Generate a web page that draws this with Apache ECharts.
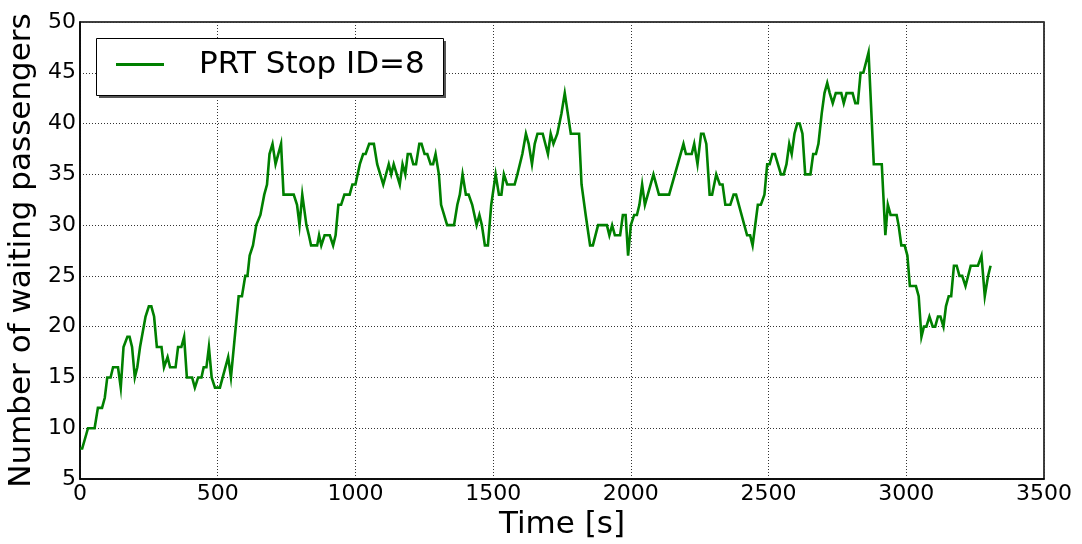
<!DOCTYPE html>
<html>
<head>
<meta charset="utf-8">
<script src="https://cdn.jsdelivr.net/npm/echarts@6/dist/echarts.min.js"></script>
<style>
  html, body { margin: 0; padding: 0; background: #fff; }
  #chart { width: 1082px; height: 544px; }
</style>
</head>
<body>
<div id="chart"></div>
<script>
// Queue length at PRT stop 8 over the simulation run
const seriesName = 'PRT Stop ID=8';
const times = [0,8,29,53,65,80,90,99,111,120,138,148,158,172,180,189,199,208,218,225,238,250,259,269,279,296,305,318,327,347,356,368,378,388,407,417,429,441,449,459,468,478,490,508,518,538,548,562,576,588,600,608,616,628,640,655,669,679,688,699,710,730,739,776,788,797,807,822,831,839,861,868,876,888,907,919,928,938,948,960,979,989,1000,1016,1028,1037,1050,1067,1079,1101,1121,1130,1139,1161,1171,1181,1190,1200,1210,1220,1232,1240,1251,1261,1273,1282,1291,1303,1311,1333,1358,1370,1379,1389,1401,1411,1424,1440,1450,1459,1470,1481,1493,1509,1521,1530,1539,1551,1578,1588,1606,1619,1629,1641,1651,1661,1680,1699,1709,1719,1733,1748,1760,1782,1812,1821,1836,1852,1862,1881,1913,1922,1932,1942,1961,1971,1981,1990,2000,2012,2022,2031,2041,2051,2082,2102,2139,2191,2200,2221,2230,2242,2255,2264,2274,2286,2295,2310,2323,2333,2343,2361,2373,2382,2422,2433,2442,2461,2472,2485,2495,2504,2514,2523,2545,2555,2565,2575,2584,2594,2604,2613,2623,2633,2652,2662,2672,2681,2693,2703,2713,2722,2733,2744,2764,2773,2783,2805,2815,2824,2834,2844,2863,2882,2911,2924,2933,2943,2965,2972,2982,2994,3004,3013,3035,3045,3055,3064,3073,3084,3096,3105,3115,3124,3135,3144,3154,3163,3173,3183,3193,3203,3215,3234,3260,3273,3285,3297,3306];
const waiting = [8,8,10,10,12,12,13,15,15,16,16,14,18,19,19,18,15,16,18,18,21,22,22,21,18,18,16,17,16,16,18,18,19,15,15,14,15,15,16,16,18,15,14,14,15,17,15,19,23,23,25,25,27,28,30,31,33,34,37,38,36,38,33,33,32,30,33,30,29,28,28,29,28,29,29,28,29,32,32,33,33,34,34,36,37,37,38,38,36,34,36,35,36,34,36,35,37,37,36,36,38,38,37,37,36,36,37,35,32,30,30,32,33,35,33,33,32,30,31,30,28,28,32,35,33,33,35,34,34,35,37,39,38,36,38,39,39,37,39,38,39,41,43,39,39,34,31,28,28,30,30,29,30,29,29,31,31,27,30,31,31,32,34,32,35,33,33,38,37,37,38,36,39,39,38,33,33,35,34,34,32,32,33,33,29,29,28,32,32,33,36,36,37,37,35,35,36,38,37,39,40,40,39,35,35,37,37,38,41,43,44,43,42,43,43,42,43,43,42,42,45,45,47,36,36,29,32,31,31,30,28,28,27,24,24,23,19,20,20,21,20,20,21,21,20,22,23,23,26,26,25,25,24,26,26,27,23,25,26];

const xMin = 0, xMax = 3500, xStep = 500;
const yMin = 5, yMax = 50, yStep = 5;

const font = 'DejaVu Sans';
const gridDots = { color: '#333', width: 1, type: [1, 2] };
const plain = v => String(v);

// legend frame: box plus offset drop shadow
const legendBox = { x: 96, y: 38, w: 347, h: 57, shadow: 3 };

const chart = echarts.init(document.getElementById('chart'), null, { renderer: 'canvas' });
chart.setOption({
  animation: false,
  backgroundColor: '#fff',
  textStyle: { fontFamily: font },
  grid: {
    left: 80, right: 38, top: 22, bottom: 65,
    containLabel: false, outerBoundsMode: 'none',
    show: true, borderColor: '#000', borderWidth: 1.5, backgroundColor: 'transparent'
  },
  graphic: [
    {
      type: 'rect', z: 10, silent: true,
      shape: { x: legendBox.x + legendBox.shadow, y: legendBox.y + legendBox.shadow, width: legendBox.w, height: legendBox.h },
      style: { fill: '#555' }
    },
    {
      type: 'rect', z: 11, silent: true,
      shape: { x: legendBox.x + 0.5, y: legendBox.y + 0.5, width: legendBox.w, height: legendBox.h },
      style: { fill: '#fff', stroke: '#000', lineWidth: 1 }
    }
  ],
  legend: {
    z: 20,
    left: legendBox.x, top: legendBox.y,
    padding: [10, 10, 10, 20],
    itemWidth: 48, itemHeight: 3,
    icon: 'rect',
    textStyle: { fontFamily: font, fontSize: 31, color: '#000', lineHeight: 33, padding: [0, 0, 0, 30] },
    data: [{ name: seriesName, icon: 'rect' }]
  },
  xAxis: {
    type: 'value', min: xMin, max: xMax, interval: xStep,
    name: 'Time [s]', nameLocation: 'middle', nameGap: 30,
    nameTextStyle: { fontFamily: font, fontSize: 31, color: '#000', verticalAlign: 'top' },
    axisLine: { show: true, onZero: false, lineStyle: { color: '#000', width: 1.5 } },
    axisTick: { show: false },
    axisLabel: { fontFamily: font, fontSize: 22, color: '#000', margin: 4, formatter: plain },
    splitLine: { show: true, lineStyle: gridDots }
  },
  yAxis: {
    type: 'value', min: yMin, max: yMax, interval: yStep,
    name: 'Number of waiting passengers', nameLocation: 'middle', nameGap: 39,
    nameTextStyle: { fontFamily: font, fontSize: 31, color: '#000' },
    axisLine: { show: true, onZero: false, lineStyle: { color: '#000', width: 1.5 } },
    axisTick: { show: false },
    axisLabel: { fontFamily: font, fontSize: 22, color: '#000', margin: 4, formatter: plain },
    splitLine: { show: true, lineStyle: gridDots }
  },
  series: [{
    name: seriesName,
    type: 'line',
    data: times.map((t, i) => [t, waiting[i]]),
    showSymbol: false, symbol: 'none',
    lineStyle: { color: '#008000', width: 2.6, join: 'miter' },
    itemStyle: { color: '#008000' }
  }]
});
</script>
</body>
</html>
